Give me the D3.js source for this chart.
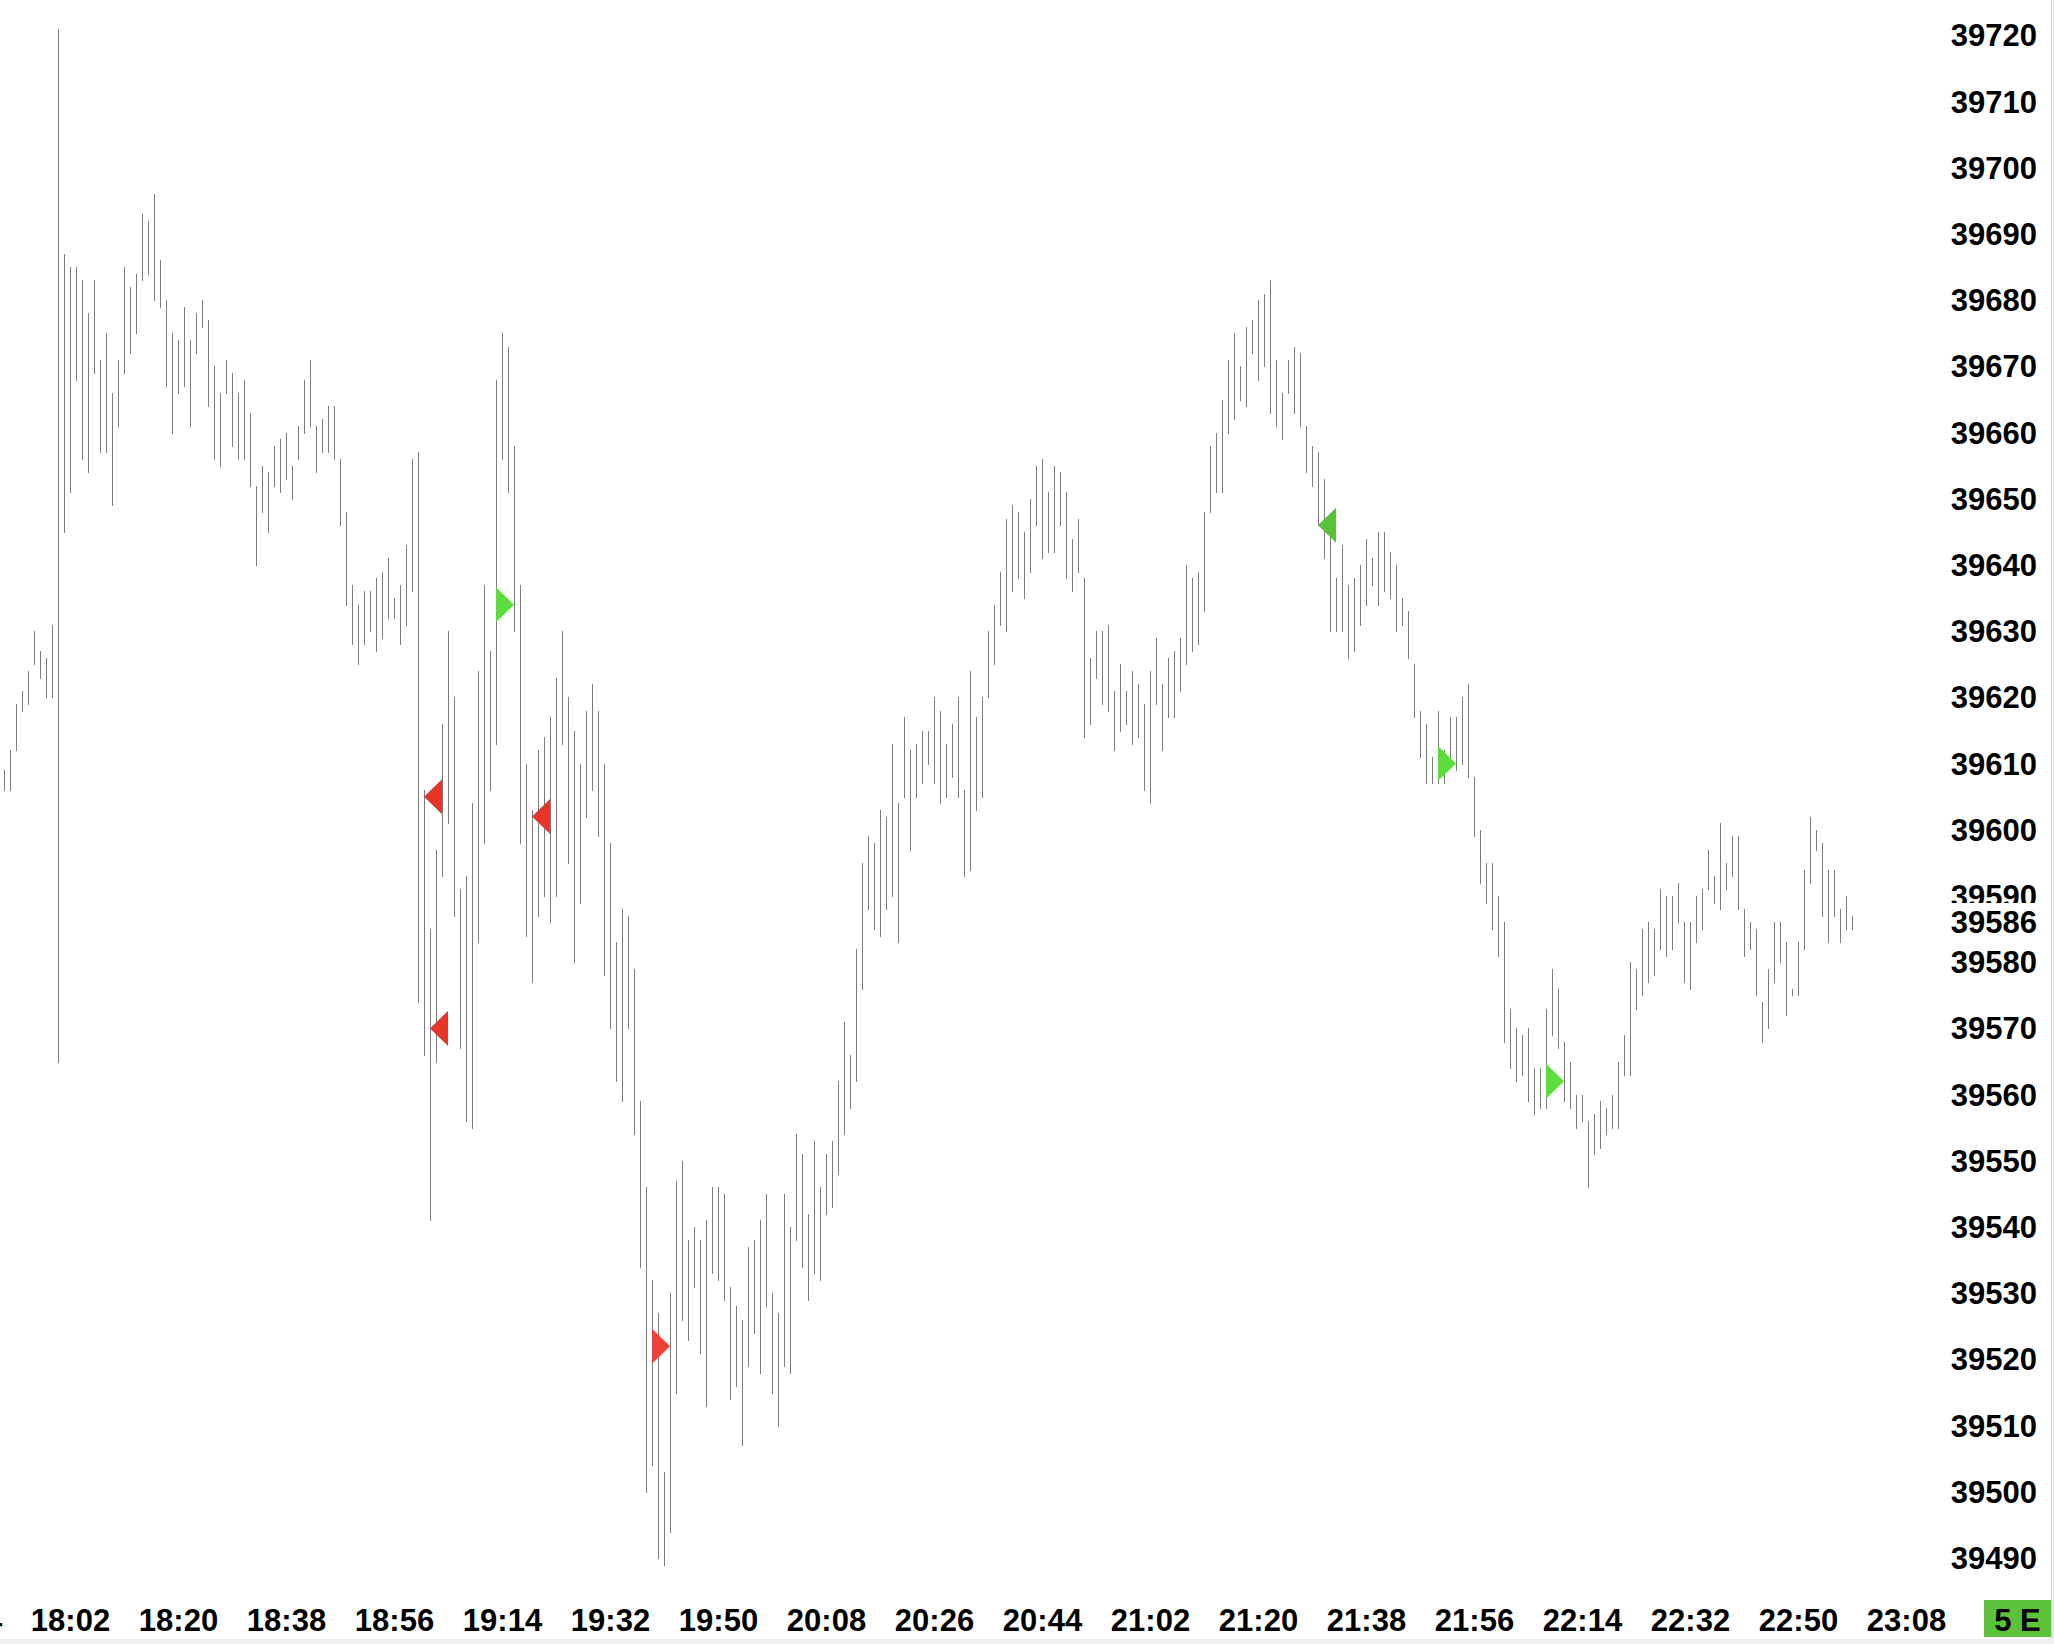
<!DOCTYPE html>
<html>
<head>
<meta charset="utf-8">
<script src="https://cdn.jsdelivr.net/npm/d3@7"></script>
<style>
  html, body { margin: 0; padding: 0; background: #ffffff; }
  svg { display: block; }
  text { font-family: "Liberation Sans", Arial, sans-serif; font-weight: bold; fill: #000; }
</style>
</head>
<body>
<div id="chart"></div>
<script>
// ============================================================
// Data — 1-minute high/low bars (9 bars of the previous session, then 18:00 to 22:59)
// ============================================================
const firstBarTime = "16:51";

const highs = [
    39609, 39612, 39619, 39621, 39624, 39630, 39627, 39626, 39631, 39721,
    39687, 39685, 39685, 39683, 39678, 39683, 39671, 39675, 39666, 39671,
    39685, 39682, 39684, 39693, 39692, 39696, 39686, 39680, 39675, 39674,
    39679, 39674, 39678, 39680, 39677, 39670, 39666, 39671, 39669, 39666,
    39668, 39663, 39652, 39655, 39654, 39658, 39659, 39660, 39655, 39661,
    39668, 39671, 39661, 39662, 39664, 39664, 39656, 39648, 39637, 39634,
    39636, 39636, 39638, 39639, 39641, 39635, 39637, 39643, 39656, 39657,
    39606, 39585, 39597, 39616, 39630, 39620, 39591, 39593, 39604, 39624,
    39637, 39627, 39668, 39675, 39673, 39658, 39637, 39610, 39603, 39612,
    39614, 39617, 39623, 39630, 39620, 39615, 39610, 39618, 39622, 39618,
    39610, 39598, 39583, 39588, 39587, 39579, 39559, 39546, 39532, 39527,
    39503, 39530, 39547, 39550, 39538, 39540, 39538, 39541, 39546, 39546,
    39545, 39531, 39528, 39526, 39537, 39538, 39541, 39545, 39530, 39527,
    39545, 39540, 39554, 39551, 39542, 39553, 39546, 39551, 39553, 39562,
    39571, 39566, 39582, 39595, 39599, 39598, 39603, 39602, 39613, 39604,
    39617, 39612, 39613, 39615, 39615, 39620, 39618, 39613, 39616, 39620,
    39606, 39624, 39617, 39620, 39630, 39634, 39639, 39647, 39649, 39648,
    39645, 39650, 39655, 39656, 39651, 39655, 39654, 39651, 39644, 39647,
    39638, 39626, 39630, 39630, 39631, 39621, 39625, 39621, 39624, 39622,
    39619, 39624, 39629, 39622, 39626, 39627, 39629, 39640, 39638, 39639,
    39648, 39658, 39660, 39665, 39671, 39675, 39670, 39676, 39677, 39680,
    39681, 39683, 39671, 39666, 39671, 39673, 39672, 39661, 39658, 39657,
    39653, 39645, 39638, 39643, 39637, 39638, 39640, 39644, 39641, 39645,
    39645, 39642, 39640, 39635, 39633, 39625, 39618, 39616, 39611, 39618,
    39612, 39617, 39617, 39620, 39622, 39608, 39600, 39595, 39595, 39590,
    39586, 39573, 39570, 39569, 39570, 39564, 39564, 39573, 39579, 39576,
    39568, 39565, 39560, 39560, 39556, 39557, 39559, 39558, 39560, 39565,
    39569, 39580, 39579, 39585, 39586, 39585, 39591, 39590, 39590, 39592,
    39586, 39586, 39590, 39591, 39597, 39593, 39601, 39595, 39599, 39599,
    39588, 39586, 39585, 39574, 39579, 39586, 39586, 39583, 39576, 39583,
    39594, 39602, 39600, 39598, 39594, 39594, 39588, 39590, 39587
];

const lows = [
    39606, 39606, 39612, 39618, 39619, 39625, 39623, 39620, 39620, 39565,
    39645, 39651, 39668, 39656, 39654, 39669, 39657, 39657, 39649, 39661,
    39669, 39672, 39675, 39683, 39684, 39680, 39679, 39667, 39660, 39666,
    39667, 39661, 39672, 39676, 39664, 39656, 39655, 39666, 39658, 39656,
    39656, 39652, 39640, 39648, 39645, 39652, 39651, 39653, 39650, 39656,
    39660, 39661, 39654, 39657, 39657, 39656, 39646, 39634, 39628, 39625,
    39628, 39630, 39627, 39629, 39632, 39632, 39628, 39631, 39636, 39574,
    39566, 39541, 39565, 39593, 39601, 39587, 39567, 39556, 39555, 39583,
    39598, 39606, 39613, 39656, 39651, 39630, 39598, 39584, 39577, 39587,
    39590, 39586, 39590, 39613, 39595, 39580, 39589, 39602, 39606, 39599,
    39578, 39570, 39562, 39559, 39570, 39554, 39534, 39500, 39504, 39490,
    39489, 39494, 39515, 39526, 39523, 39531, 39521, 39513, 39533, 39532,
    39529, 39514, 39516, 39507, 39519, 39524, 39518, 39528, 39515, 39510,
    39519, 39518, 39538, 39534, 39529, 39533, 39532, 39542, 39543, 39548,
    39554, 39558, 39562, 39576, 39588, 39585, 39584, 39588, 39590, 39583,
    39605, 39597, 39605, 39607, 39610, 39607, 39604, 39605, 39608, 39605,
    39593, 39594, 39603, 39605, 39620, 39625, 39631, 39630, 39636, 39638,
    39635, 39639, 39646, 39641, 39642, 39642, 39646, 39638, 39636, 39639,
    39614, 39616, 39623, 39619, 39618, 39612, 39615, 39616, 39613, 39614,
    39606, 39604, 39619, 39612, 39617, 39617, 39621, 39625, 39627, 39628,
    39633, 39648, 39651, 39651, 39660, 39662, 39665, 39664, 39672, 39668,
    39670, 39663, 39661, 39659, 39666, 39663, 39661, 39654, 39652, 39646,
    39641, 39630, 39630, 39630, 39626, 39627, 39631, 39634, 39637, 39634,
    39636, 39635, 39630, 39631, 39626, 39617, 39611, 39607, 39607, 39607,
    39607, 39611, 39609, 39610, 39608, 39599, 39592, 39589, 39585, 39581,
    39568, 39564, 39562, 39563, 39559, 39557, 39558, 39558, 39569, 39567,
    39559, 39558, 39555, 39556, 39546, 39551, 39552, 39554, 39555, 39555,
    39563, 39563, 39573, 39575, 39577, 39578, 39582, 39581, 39582, 39586,
    39577, 39576, 39583, 39585, 39591, 39589, 39588, 39591, 39593, 39588,
    39581, 39582, 39575, 39568, 39570, 39577, 39580, 39572, 39575, 39575,
    39582, 39592, 39597, 39587, 39583, 39587, 39583, 39585, 39585
];

// signal triangles: bar index of the left edge, price level, pointing direction, colour
const signalBar   = [70, 71, 82, 88, 108, 219, 239, 257];
const signalPrice = [39605, 39570, 39634, 39602, 39522, 39646, 39610, 39562];
const signalDir   = ["left", "left", "right", "left", "right", "left", "right", "right"];
const signalColor = ["#e8352a", "#e8352a", "#5edb3f", "#e8352a", "#ea4236", "#56c23a", "#5edb3f", "#5edb3f"];

// axis labels
const yTicks = [39490, 39500, 39510, 39520, 39530, 39540, 39550, 39560, 39570, 39580,
                39590, 39600, 39610, 39620, 39630, 39640, 39650, 39660, 39670, 39680,
                39690, 39700, 39710, 39720];
const xTickLabels = ["16:44", "18:02", "18:20", "18:38", "18:56", "19:14", "19:32", "19:50",
                     "20:08", "20:26", "20:44", "21:02", "21:20", "21:38", "21:56", "22:14",
                     "22:32", "22:50", "23:08"];
const lastPrice = 39586;
const cornerLabel = "5 E";

// ============================================================
// Layout
// ============================================================
const W = 2054, H = 1644;
const BAR_STEP = 6;          // px per 1-minute slot
const FONT = 31;

// time label -> slot index (slot 0 = 16:51, slot 9 = 18:00)
function slotOf(t) {
    const h = +t.split(":")[0], m = +t.split(":")[1];
    if (h < 18) return (h * 60 + m) - (16 * 60 + 51);
    return 9 + (h - 18) * 60 + m;
}

const x = d3.scaleLinear().domain([0, 1]).range([4.5, 4.5 + BAR_STEP]);
const y = d3.scaleLinear().domain([39720, 39490]).range([35.4, 35.4 + 230 * 6.62]);

const svg = d3.select("#chart").append("svg")
    .attr("width", W)
    .attr("height", H);

svg.append("rect").attr("width", W).attr("height", H).attr("fill", "#ffffff");

// ---- bars ----
const bars = highs.map(function (hi, i) { return { i: i, hi: hi, lo: lows[i] }; });

svg.append("g")
    .attr("class", "bars")
    .attr("shape-rendering", "crispEdges")
    .selectAll("line")
    .data(bars)
    .enter()
    .append("line")
    .attr("x1", function (d) { return x(d.i); })
    .attr("x2", function (d) { return x(d.i); })
    .attr("y1", function (d) { return y(d.hi); })
    .attr("y2", function (d) { return y(d.lo) + 1; })
    .attr("stroke", "#7c7c7c")
    .attr("stroke-width", 1);

// ---- signal triangles ----
const signals = signalBar.map(function (b, k) {
    return { b: b, p: signalPrice[k], dir: signalDir[k], color: signalColor[k] };
});

svg.append("g")
    .attr("class", "signals")
    .selectAll("path")
    .data(signals)
    .enter()
    .append("path")
    .attr("d", function (d) {
        const x0 = x(d.b) - 0.5, x1 = x(d.b + 3) - 0.5, cy = y(d.p), hh = 17.5;
        const p = d3.path();
        if (d.dir === "left") {
            p.moveTo(x0, cy); p.lineTo(x1, cy - hh); p.lineTo(x1, cy + hh);
        } else {
            p.moveTo(x1, cy); p.lineTo(x0, cy - hh); p.lineTo(x0, cy + hh);
        }
        p.closePath();
        return p.toString();
    })
    .attr("fill", function (d) { return d.color; });

// ---- price axis (right) ----
const yAxisG = svg.append("g").attr("class", "y-axis");
yAxisG.selectAll("text")
    .data(yTicks)
    .enter()
    .append("text")
    .attr("x", 2037)
    .attr("y", function (d) { return y(d) + 11; })
    .attr("text-anchor", "end")
    .attr("font-size", FONT)
    .text(function (d) { return d; });

// last price label with its own white box
yAxisG.append("rect")
    .attr("x", 1945)
    .attr("y", y(lastPrice) - 19.5)
    .attr("width", 100)
    .attr("height", 38)
    .attr("fill", "#ffffff");
yAxisG.append("text")
    .attr("x", 2037)
    .attr("y", y(lastPrice) + 11)
    .attr("text-anchor", "end")
    .attr("font-size", FONT)
    .text(lastPrice);

// ---- time axis (bottom) ----
svg.append("g")
    .attr("class", "x-axis")
    .selectAll("text")
    .data(xTickLabels)
    .enter()
    .append("text")
    .attr("x", function (d) { return x(slotOf(d)); })
    .attr("y", 1631)
    .attr("text-anchor", "middle")
    .attr("font-size", FONT)
    .text(function (d) { return d; });

// ---- frame strips and corner badge ----
svg.append("rect").attr("x", 0).attr("y", 1639).attr("width", W).attr("height", H - 1639).attr("fill", "#efefef");
svg.append("rect").attr("x", 2051).attr("y", 0).attr("width", 3).attr("height", H).attr("fill", "#efefef");
svg.append("rect").attr("x", 2051).attr("y", 0).attr("width", 1).attr("height", 1639).attr("fill", "#d6d6d6");

svg.append("rect")
    .attr("x", 1984).attr("y", 1600)
    .attr("width", 67).attr("height", 37)
    .attr("fill", "#5cc23a");
svg.append("text")
    .attr("x", 2017.5)
    .attr("y", 1631)
    .attr("text-anchor", "middle")
    .attr("font-size", FONT)
    .text(cornerLabel);
</script>
</body>
</html>
